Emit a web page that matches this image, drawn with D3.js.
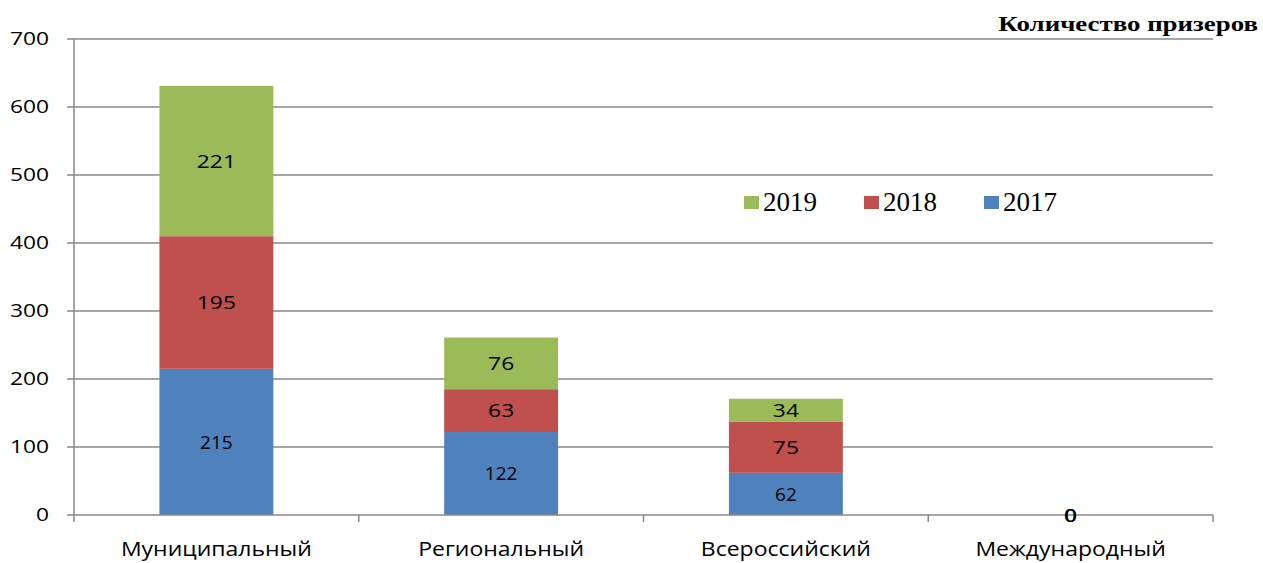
<!DOCTYPE html>
<html>
<head>
<meta charset="utf-8">
<script src="https://cdn.jsdelivr.net/npm/d3@7"></script>
<style>
  body { margin: 0; background: #fff; }
  svg { display: block; }
</style>
</head>
<body>
<svg id="chart"></svg>
<script>
var width = 1263;
var height = 563;

var categories = ["Муниципальный", "Региональный", "Всероссийский", "Международный"];
var years = ["2017", "2018", "2019"];
var values2017 = [215, 122, 62, 0];
var values2018 = [195, 63, 75, 0];
var values2019 = [221, 76, 34, 0];
var yTicks = [0, 100, 200, 300, 400, 500, 600, 700];
var colors = { "2017": "#4F81BD", "2018": "#C0504D", "2019": "#9BBB59" };

var plotLeft = 74, plotRight = 1213, plotTop = 39, plotBottom = 515;
var sans = "'Open Sans', sans-serif";
var serif = "'Liberation Serif', serif";

var svg = d3.select("#chart").attr("width", width).attr("height", height);

var x = d3.scaleBand().domain(categories).range([plotLeft, plotRight]).paddingInner(0.6).paddingOuter(0.3);
var y = d3.scaleLinear().domain([0, 700]).range([plotBottom, plotTop]);

var rows = categories.map((c, i) => ({ cat: c, "2017": values2017[i], "2018": values2018[i], "2019": values2019[i] }));
var stacked = d3.stack().keys(years)(rows);

// gridlines
svg.append("g").selectAll("line").data(yTicks.filter(t => t > 0)).enter().append("line")
  .attr("x1", plotLeft).attr("x2", plotRight)
  .attr("y1", d => y(d)).attr("y2", d => y(d))
  .attr("stroke", "#898989").attr("stroke-width", 1.5);

// bars
stacked.forEach(layer => {
  svg.append("g").selectAll("rect").data(layer).enter().append("rect")
    .attr("x", d => x(d.data.cat))
    .attr("width", x.bandwidth())
    .attr("y", d => y(d[1]))
    .attr("height", d => y(d[0]) - y(d[1]))
    .attr("fill", colors[layer.key]);
});

// y axis
svg.append("line").attr("x1", plotLeft).attr("x2", plotLeft).attr("y1", plotTop).attr("y2", plotBottom)
  .attr("stroke", "#898989").attr("stroke-width", 1.5);
svg.append("g").selectAll("line").data(yTicks).enter().append("line")
  .attr("x1", plotLeft - 7).attr("x2", plotLeft)
  .attr("y1", d => y(d)).attr("y2", d => y(d))
  .attr("stroke", "#898989").attr("stroke-width", 1.5);
svg.append("g").selectAll("text").data(yTicks).enter().append("text")
  .attr("transform", d => `translate(49,${y(d)}) scale(1.3,1)`)
  .attr("dy", "0.36em")
  .attr("text-anchor", "end")
  .style("font-family", sans)
  .style("font-size", "17.5px")
  .text(d => d);

// x axis
svg.append("line").attr("x1", plotLeft).attr("x2", plotRight).attr("y1", plotBottom).attr("y2", plotBottom)
  .attr("stroke", "#898989").attr("stroke-width", 1.5);
var step = (plotRight - plotLeft) / categories.length;
svg.append("g").selectAll("line").data(d3.range(categories.length + 1)).enter().append("line")
  .attr("x1", d => plotLeft + d * step).attr("x2", d => plotLeft + d * step)
  .attr("y1", plotBottom).attr("y2", plotBottom + 7)
  .attr("stroke", "#898989").attr("stroke-width", 1.5);
svg.append("g").selectAll("text").data(categories).enter().append("text")
  .attr("transform", d => `translate(${x(d) + x.bandwidth() / 2},556) scale(1.15,1)`)
  .attr("text-anchor", "middle")
  .style("font-family", sans)
  .style("font-size", "20px")
  .text(d => d);

// value labels
stacked.forEach(layer => {
  var sx = layer.key === "2017" ? 1 : 1.2;
  svg.append("g").selectAll("text").data(layer).enter().append("text")
    .attr("transform", d => `translate(${x(d.data.cat) + x.bandwidth() / 2},${(y(d[0]) + y(d[1])) / 2}) scale(${sx},1)`)
    .attr("dy", "0.36em")
    .attr("text-anchor", "middle")
    .style("font-family", sans)
    .style("font-size", "19px")
    .text(d => d[1] - d[0]);
});

// title
svg.append("text")
  .attr("transform", "translate(1258,31) scale(1.28,1)")
  .attr("text-anchor", "end")
  .style("font-family", serif)
  .style("font-weight", "bold")
  .style("font-size", "21px")
  .text("Количество призеров");

// legend
var legendItems = ["2019", "2018", "2017"];
var legendX = [744, 864, 984];
var legend = svg.append("g");
legendItems.forEach((k, i) => {
  legend.append("rect")
    .attr("x", legendX[i]).attr("y", 196)
    .attr("width", 15).attr("height", 13)
    .attr("fill", colors[k]);
  legend.append("text")
    .attr("x", legendX[i] + 19).attr("y", 211)
    .style("font-family", serif)
    .style("font-size", "27px")
    .text(k);
});
</script>
</body>
</html>
